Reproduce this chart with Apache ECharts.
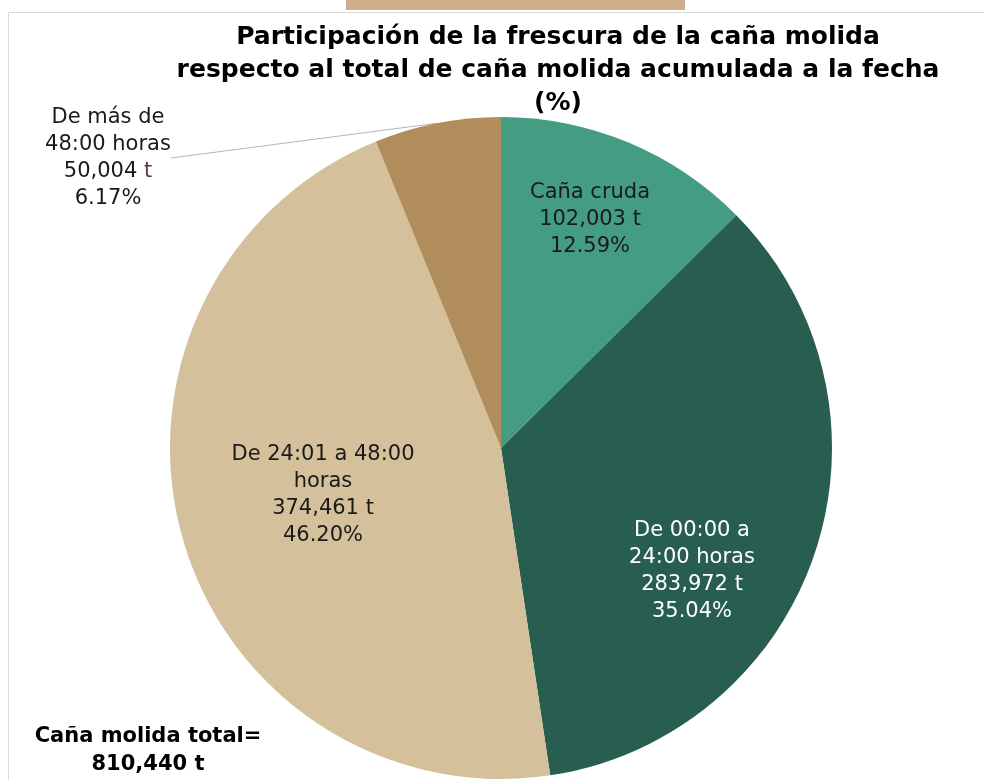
<!DOCTYPE html>
<html>
<head>
<meta charset="utf-8">
<script src="https://cdn.jsdelivr.net/npm/echarts@6/dist/echarts.min.js"></script>
<style>
  html, body { margin: 0; padding: 0; background: #fff; }
  #chart { width: 984px; height: 780px; }
</style>
</head>
<body>
<div id="chart"></div>
<script>
const categories = ["Caña cruda", "De 00:00 a\n24:00 horas", "De 24:01 a 48:00\nhoras", "De más de\n48:00 horas"];
const values = [102003, 283972, 374461, 50004];
const percents = ["12.59%", "35.04%", "46.20%", "6.17%"];
const colors = ["#449c83", "#285e4f", "#d4c09b", "#b08d5b"];
const labelColors = ["#1a1a1a", "#ffffff", "#1a1a1a", "#1a1a1a"];
// centro de cada etiqueta (px)
const labelPos = [[590, 220], [692, 571], [323, 495], [108, 158]];

const fmt = v => v.toLocaleString("en-US");
const font = "DejaVu Sans";

let chart = echarts.init(document.getElementById("chart"));

const data = values.map((v, i) => ({
  value: v,
  name: categories[i],
  itemStyle: { color: colors[i] },
  label: {
    show: true,
    position: i === 3 ? "outside" : "inside",
    color: labelColors[i],
    formatter: categories[i] + "\n" + fmt(v) + (i === 3 ? " {t|t}" : " t") + "\n" + percents[i],
    rich: { t: { color: "#5b3a42", fontSize: 21, fontFamily: font } }
  },
  labelLine: { show: i === 3 }
}));

chart.setOption({
  backgroundColor: "#ffffff",
  animation: false,
  title: [
    {
      text: "Participación de la frescura de la caña molida\nrespecto al total de caña molida acumulada a la fecha\n(%)",
      left: 553,
      top: 16,
      textAlign: "center",
      textStyle: { fontFamily: font, fontWeight: "bold", fontSize: 25, lineHeight: 33, color: "#000" }
    },
    {
      text: "Caña molida total=\n810,440 t",
      left: 143,
      top: 718,
      textAlign: "center",
      textStyle: { fontFamily: font, fontWeight: "bold", fontSize: 21, lineHeight: 28, color: "#000" }
    }
  ],
  graphic: [
    { type: "rect", shape: { x: 346, y: 0, width: 339, height: 10 }, style: { fill: "#cdae89" } },
    { type: "rect", shape: { x: 8.5, y: 12.5, width: 990, height: 800 }, style: { fill: "none", stroke: "#d9d9d9", lineWidth: 1 }, z: -1 }
  ],
  series: [{
    type: "pie",
    center: [501, 448],
    radius: 331,
    startAngle: 90,
    clockwise: true,
    data: data,
    label: {
      fontFamily: font,
      fontSize: 21,
      lineHeight: 27,
      align: "center"
    },
    labelLine: {
      length: 10,
      length2: 0,
      lineStyle: { color: "#b5b5b5", width: 1 }
    },
    labelLayout: function (params) {
      const p = labelPos[params.dataIndex];
      return { x: p[0], y: p[1], align: "center", verticalAlign: "middle" };
    }
  }]
});
</script>
</body>
</html>
